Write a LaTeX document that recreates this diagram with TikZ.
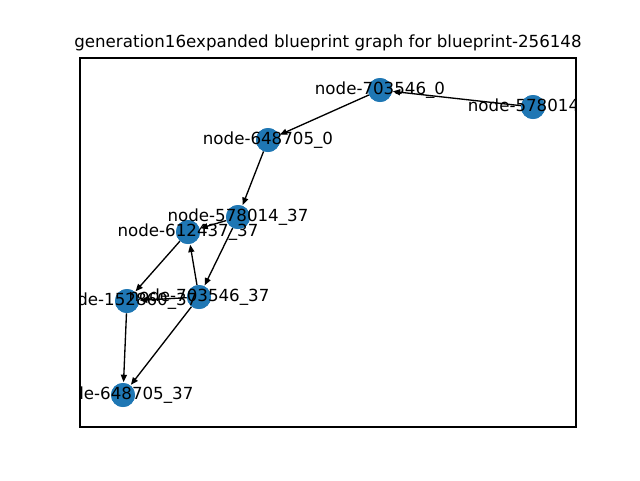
\documentclass[tikz,border=0pt]{standalone}
\usepackage{fontspec}
\setmainfont{DejaVu Sans}
\usetikzlibrary{arrows.meta}
\definecolor{nodeblue}{HTML}{1F77B4}
\begin{document}
\begin{tikzpicture}[x=0.75pt,y=-0.75pt,
  gnode/.style={circle,fill=nodeblue,draw=none,minimum size=18pt,inner sep=0pt},
  glabel/.style={font=\fontsize{12.5}{14}\selectfont,inner sep=0pt,anchor=center},
  edge/.style={draw=black,line width=1pt,-{Triangle[length=5.5pt,width=4.5pt]},shorten >=0.5pt}]
\useasboundingbox (0,0) rectangle (640,480);
% nodes
\node[gnode] (a) at (380,90) {};
\node[gnode] (b) at (533,107) {};
\node[gnode] (c) at (268,140) {};
\node[gnode] (d) at (238,217) {};
\node[gnode] (e) at (188,232) {};
\node[gnode] (f) at (199,297) {};
\node[gnode] (g) at (127,301) {};
\node[gnode] (h) at (123,395) {};
% edges
\draw[edge] (b) -- (a);
\draw[edge] (a) -- (c);
\draw[edge] (c) -- (d);
\draw[edge] (d) -- (e);
\draw[edge] (d) -- (f);
\draw[edge] (f) -- (e);
\draw[edge] (e) -- (g);
\draw[edge] (f) -- (g);
\draw[edge] (g) -- (h);
\draw[edge] (f) -- (h);
% redraw nodes over edges
\foreach \n in {a,b,c,d,e,f,g,h}
  \fill[nodeblue] (\n.center) circle (9pt);
% axes frame
\draw[line width=0.8pt] (80,58) rectangle (576,427);
% labels clipped to axes
\begin{scope}
\clip (80,58) rectangle (576,427);
\node[glabel] (la) at (a.center) {node-703546\_0};
\node[glabel] (lb) at (b.center) {node-578014\_0};
\node[glabel] (lc) at (c.center) {node-648705\_0};
\node[glabel] (ld) at (d.center) {node-578014\_37};
\node[glabel] (le) at (e.center) {node-612437\_37};
\node[glabel] (lf) at (f.center) {node-703546\_37};
\node[glabel] (lg) at (g.center) {node-152860\_37};
\node[glabel] (lh) at (h.center) {node-648705\_37};
\end{scope}
\node[glabel] (title) at (328,43) {generation16expanded blueprint graph for blueprint-256148};
\end{tikzpicture}
\end{document}
